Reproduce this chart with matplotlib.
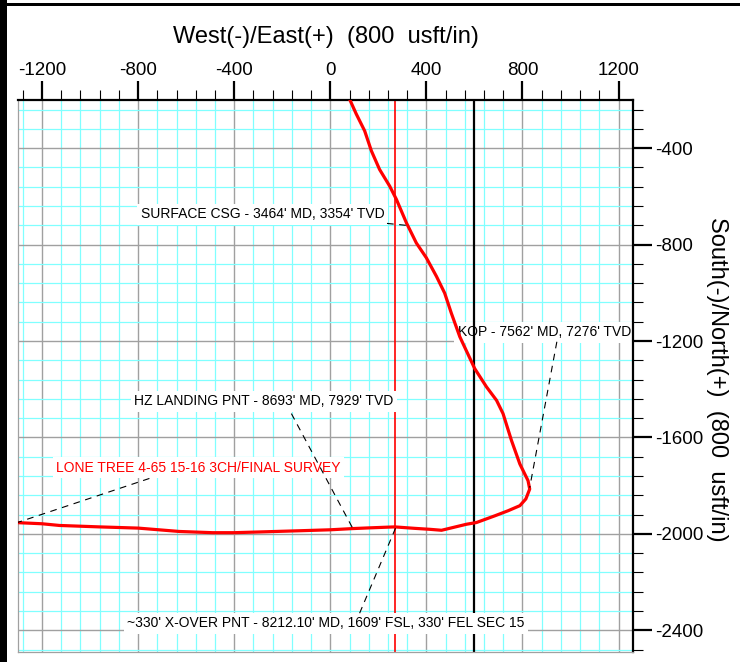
import matplotlib
matplotlib.use("Agg")
import matplotlib.pyplot as plt
from matplotlib.ticker import MultipleLocator
from matplotlib.patches import Rectangle

plt.rcParams['font.family'] = ['Liberation Sans', 'DejaVu Sans']
plt.rcParams['axes.unicode_minus'] = False

# ---- data (usft) ----
well_ew = [80, 108, 143, 171, 205, 247, 275, 317, 358, 400, 442, 476, 504, 539,
           601, 650, 692, 719, 754, 789, 823, 830, 814, 789, 740, 685, 608, 567,
           463, 414, 351, 268, 164, 93, 0, -128, -295, -400, -490, -628, -800,
           -961, -1128, -1200, -1310]
well_ns = [-196, -258, -328, -411, -488, -557, -612, -710, -793, -855, -932, -1001,
           -1085, -1182, -1314, -1390, -1446, -1501, -1612, -1710, -1779, -1814,
           -1855, -1883, -1904, -1925, -1953, -1960, -1985, -1981, -1977, -1971,
           -1975, -1978, -1983, -1987, -1992, -1995, -1995, -1990, -1976, -1971,
           -1965, -1958, -1953]

red_line_x = 270      # lease / setback line
black_line_x = 600    # section line

x_ticks = [-1200, -800, -400, 0, 400, 800, 1200]
y_ticks = [-400, -800, -1200, -1600, -2000, -2400]

labels = ["SURFACE CSG - 3464' MD, 3354' TVD",
          "KOP - 7562' MD, 7276' TVD",
          "HZ LANDING PNT - 8693' MD, 7929' TVD",
          "LONE TREE 4-65 15-16 3CH/FINAL SURVEY",
          "~330' X-OVER PNT - 8212.10' MD, 1609' FSL, 330' FEL SEC 15"]
label_x = [-790, 530, -816, -1140, -845]
label_y = [-690, -1180, -1466, -1743, -2387]
label_colors = ['black', 'black', 'black', 'red', 'black']
label_z = [3, 1, 3, 3, 3]

leader_x = [[236, 326], [943, 830], [-162, 94], [-753, -1303], [122, 272]]
leader_y = [[-712, -721], [-1203, -1808], [-1501, -1978], [-1770, -1953], [-2329, -1975]]

# ---- figure ----
fig = plt.figure(figsize=(7.4, 6.62), dpi=100)
ax = fig.add_axes([18/740, 1 - 652/662, (633-18)/740, (652-100)/662])

ax.set_xlim(-1300, 1260)
ax.set_ylim(-2490, -200)

ax.xaxis.tick_top()
ax.yaxis.tick_right()
ax.set_xticks(x_ticks)
ax.set_yticks(y_ticks)
ax.set_xticklabels([str(v) for v in x_ticks])
ax.set_yticklabels([str(v) for v in y_ticks])
ax.xaxis.set_minor_locator(MultipleLocator(80))
ax.yaxis.set_minor_locator(MultipleLocator(80))
ax.tick_params(which='major', direction='out', length=13.5, width=1.6,
               labelsize=13.5, color='black')
ax.tick_params(axis='x', which='major', pad=1.5)
ax.tick_params(axis='y', which='major', pad=2.5)
ax.tick_params(which='minor', direction='out', length=7, width=0.8, color='black')

ax.set_axisbelow(True)
ax.grid(which='minor', color='#80ffff', lw=0.9, zorder=0)
ax.grid(which='major', color='#a0a0a0', lw=1.0, zorder=0.5)

for s in ['top', 'right']:
    ax.spines[s].set_color('black')
    ax.spines[s].set_linewidth(1.6)
for s in ['left', 'bottom']:
    ax.spines[s].set_color('#a0a0a0')
    ax.spines[s].set_linewidth(0.9)

ax.axvline(red_line_x, color='red', lw=1.2, zorder=2)
ax.axvline(black_line_x, color='black', lw=1.6, zorder=2)

ax.plot(well_ew, well_ns, color='red', lw=2.3, zorder=4, solid_capstyle='round')

for t, x, y, c, z in zip(labels, label_x, label_y, label_colors, label_z):
    ax.text(x, y, t, color=c, fontsize=10, ha='left', va='baseline', zorder=z,
            bbox=dict(facecolor='white', edgecolor='none', pad=2.5))

for lx, ly in zip(leader_x, leader_y):
    ax.plot(lx, ly, color='black', lw=0.8, ls=(0, (6, 5)), zorder=5)

fig.text(326/740, 1 - 43/662, "West(-)/East(+)  (800  usft/in)", fontsize=17,
         ha='center', va='baseline')
fig.text(717/740, 1 - 379/662, "South(-)/North(+)  (800  usft/in)", fontsize=17,
         ha='center', va='center', rotation=270)

# frame decorations
fig.patches.append(Rectangle((0, 0), 7/740, 1, transform=fig.transFigure,
                             facecolor='black', edgecolor='none'))
fig.patches.append(Rectangle((7/740, 1 - 5.8/662), 1, 2.5/662, transform=fig.transFigure,
                             facecolor='black', edgecolor='none'))

fig.savefig('out.png', dpi=100)
